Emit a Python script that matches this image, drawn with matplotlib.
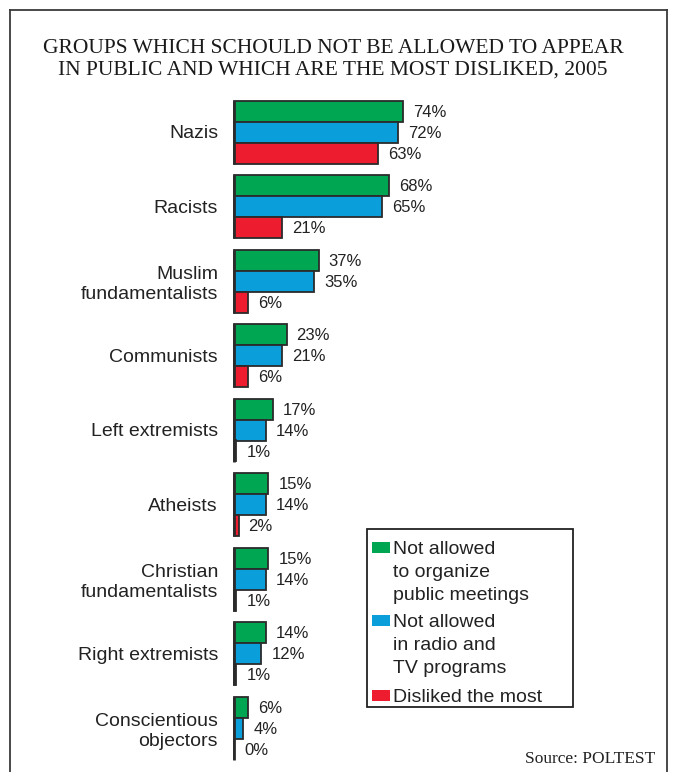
import matplotlib
matplotlib.use("Agg")
import matplotlib.pyplot as plt
from matplotlib.patches import Rectangle
from matplotlib.lines import Line2D

# Survey results (percent of respondents)
categories = [
    "Nazis",
    "Racists",
    "Muslim\nfundamentalists",
    "Communists",
    "Left extremists",
    "Atheists",
    "Christian\nfundamentalists",
    "Right extremists",
    "Conscientious\nobjectors",
]
not_meetings = [74, 68, 37, 23, 17, 15, 15, 14, 6]
not_media = [72, 65, 35, 21, 14, 14, 14, 12, 4]
disliked = [63, 21, 6, 6, 1, 2, 1, 1, 0]

series_labels = [
    ["Not allowed", "to organize", "public meetings"],
    ["Not allowed", "in radio and", "TV programs"],
    ["Disliked the most"],
]
title_lines = [
    "GROUPS WHICH SCHOULD NOT BE ALLOWED TO APPEAR",
    "IN PUBLIC AND WHICH ARE THE MOST DISLIKED, 2005",
]
source_text = "Source: POLTEST"

GREEN = "#00a651"
BLUE = "#0a9fda"
RED = "#ed1c2e"
EDGE = "#2b2b2b"
SANS = "Liberation Sans"
SERIF = "Liberation Serif"

W, H = 675, 772
fig = plt.figure(figsize=(W / 100, H / 100), dpi=100)


def fx(x):
    return x / W


def fy(y):
    return 1 - y / H


# Outer frame (open at the bottom)
for xs, ys in [((10, 10), (10, H)), ((10, 667), (10, 10)), ((667, 667), (10, H))]:
    fig.add_artist(Line2D([fx(v) for v in xs], [fy(v) for v in ys],
                          color="#3a3a3a", lw=1.3))

# Title
for i, line in enumerate(title_lines):
    fig.text(fx(333), fy(53 + 22 * i), line, ha="center", va="baseline",
             family=SERIF, fontsize=15.5, color="#1a1a1a")

# Bar chart axes
x_left, px_per_pct = 234, 2.284
y_top, y_bot = 94.75, 765.25
ax = fig.add_axes([fx(x_left), fy(y_bot), 100 * px_per_pct / W, (y_bot - y_top) / H])
ax.set_xlim(0, 100)
ax.set_ylim(len(categories) - 0.5, -0.5)
for s in ax.spines.values():
    s.set_visible(False)
ax.xaxis.set_visible(False)
ax.patch.set_alpha(0)

bar_h = 21 / 74.5
offsets = [-bar_h, 0, bar_h]
ypos = list(range(len(categories)))
for series, color, off in zip([not_meetings, not_media, disliked], [GREEN, BLUE, RED], offsets):
    yy = [y + off for y in ypos]
    bars = ax.barh(yy, series, height=bar_h, color=color, edgecolor=EDGE, linewidth=1.3)
    for b in bars:
        b.set_clip_on(False)
    for y, v in zip(yy, series):
        ax.annotate(f"{v}%", xy=(v, y), xytext=(7.2, -1), textcoords="offset points",
                    ha="left", va="center", family=SANS, fontsize=12, color="#222222")

# Zero baseline for each group of three bars
base = ax.vlines([0] * len(ypos), [y - 1.5 * bar_h for y in ypos],
                 [y + 1.5 * bar_h for y in ypos],
                 color=EDGE, linewidth=2.0, clip_on=False, zorder=3)
base.set_snap(True)

ax.set_yticks(ypos)
ax.set_yticklabels(categories, family=SANS, fontsize=14, color="#222222")
ax.tick_params(axis="y", length=0, pad=11.5)

# Legend box
fig.add_artist(Rectangle((fx(367), fy(707)), fx(573) - fx(367), fy(529) - fy(707),
                         transform=fig.transFigure, fill=False, edgecolor="#222222", lw=1.3))
entry_first_lines = [547, 620, 695]
line_step = 23
for lines, color, y0 in zip(series_labels, [GREEN, BLUE, RED], entry_first_lines):
    fig.add_artist(Rectangle((fx(372), fy(y0 + 6)), fx(390) - fx(372), fy(y0 - 5) - fy(y0 + 6),
                             transform=fig.transFigure, facecolor=color, edgecolor="none"))
    for k, t in enumerate(lines):
        fig.text(fx(393), fy(y0 + 7 + k * line_step), t, ha="left", va="baseline",
                 family=SANS, fontsize=14, color="#222222")

# Source note
fig.text(fx(655), fy(763), source_text, ha="right", va="baseline",
         family=SERIF, fontsize=12.5, color="#222222")

fig.savefig("out.png", dpi=100)
